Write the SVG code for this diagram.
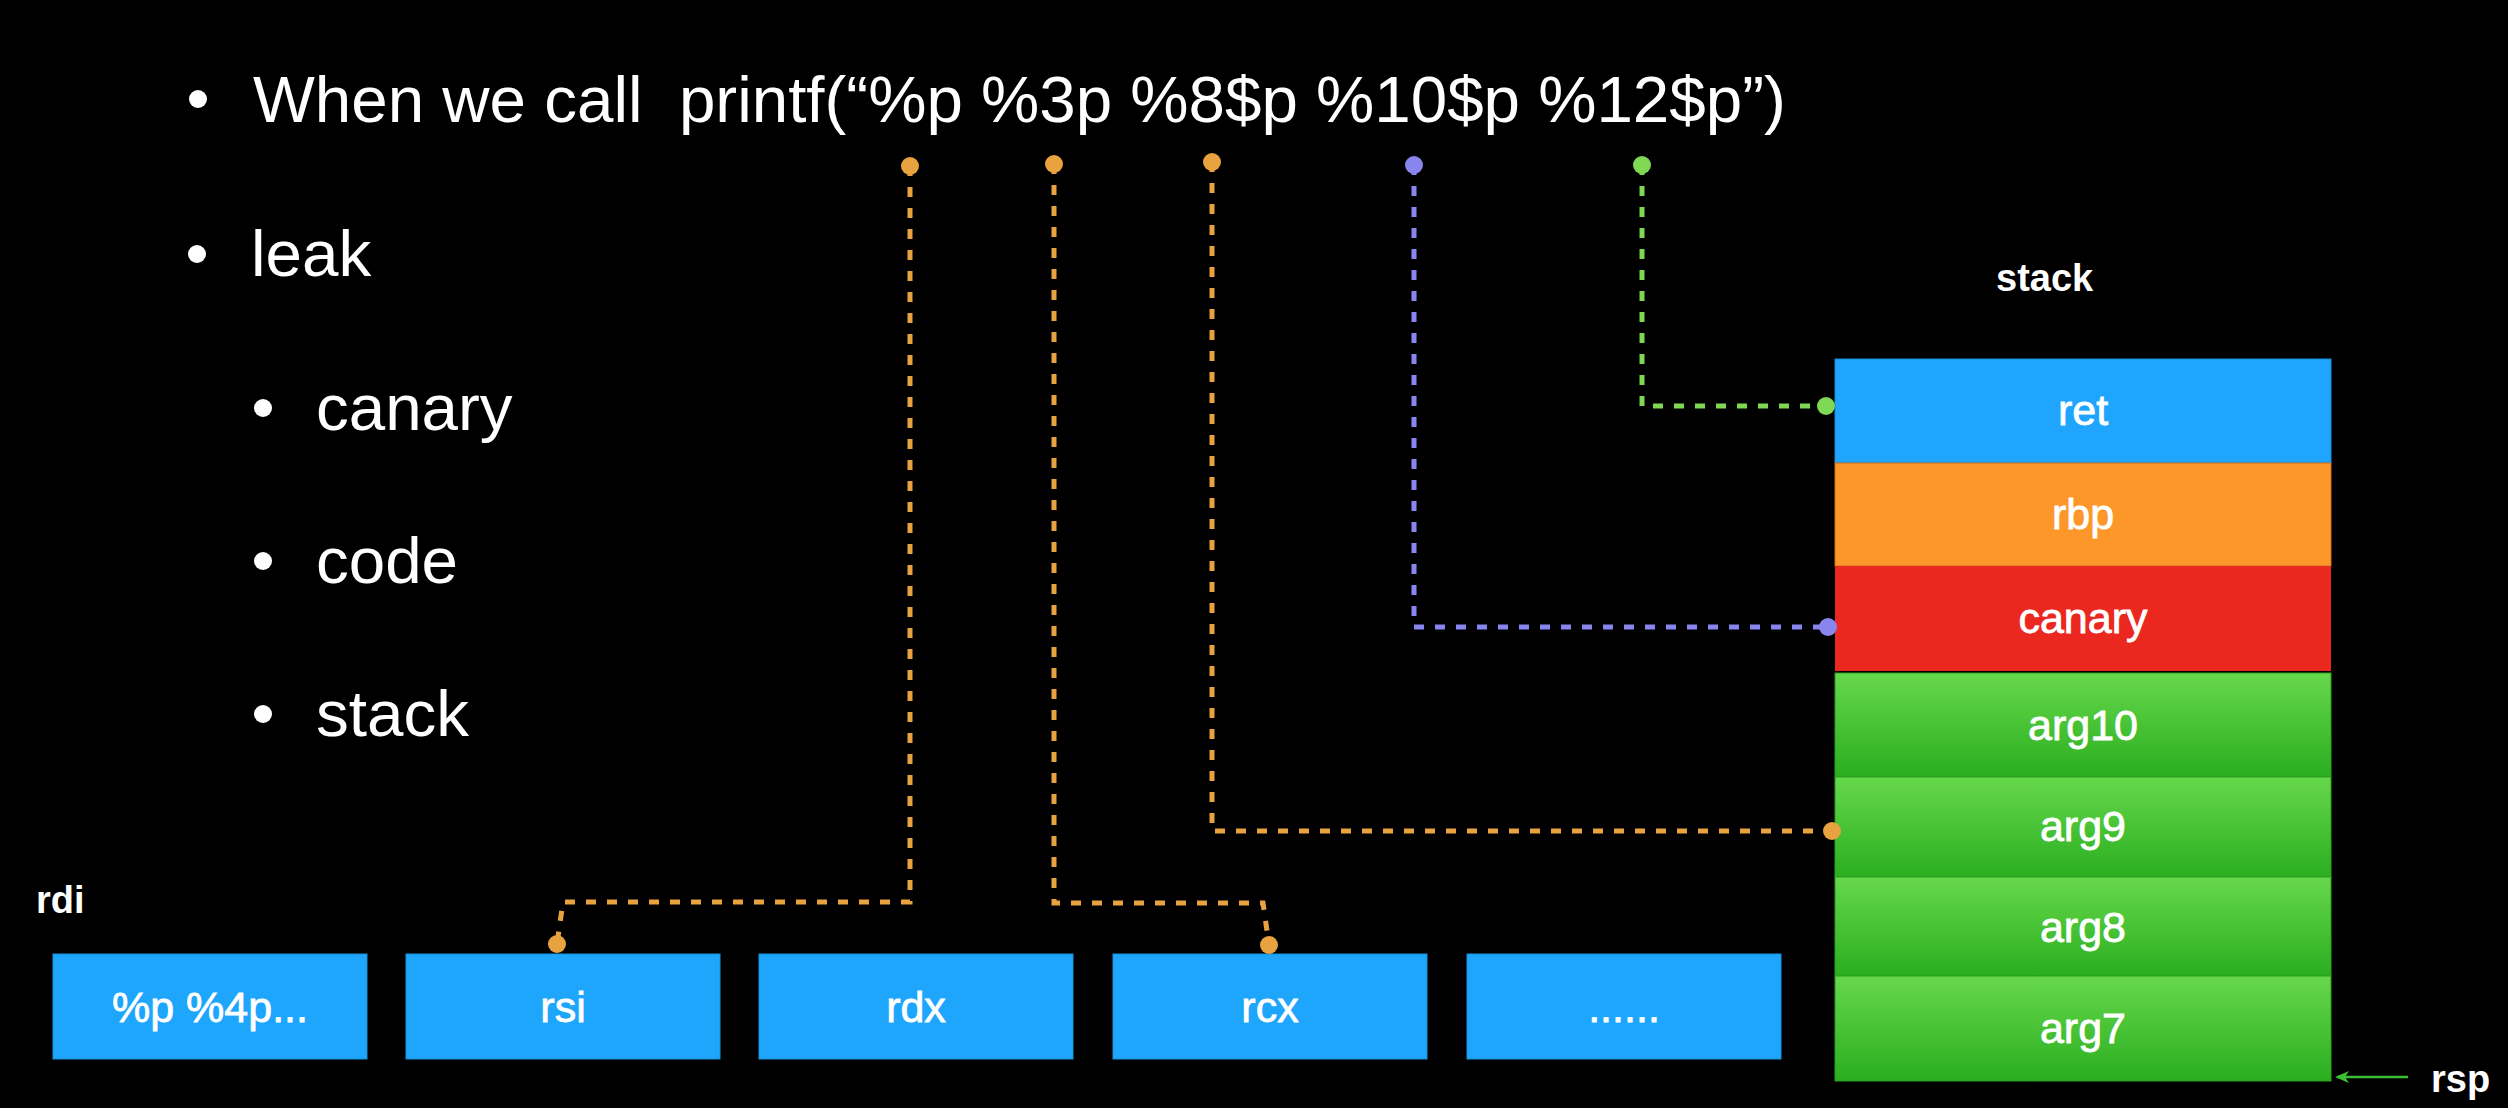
<svg xmlns="http://www.w3.org/2000/svg" width="2508" height="1108" viewBox="0 0 2508 1108">
<defs>
<style>
.bt{font-family:"Liberation Sans",Arial,sans-serif;font-size:65.5px;fill:#fff}
.lbl{font-family:"Liberation Sans",Arial,sans-serif;font-size:43px;fill:#fff;stroke:#fff;stroke-width:0.8;text-anchor:middle}
.hd{font-family:"Liberation Sans",Arial,sans-serif;font-size:38px;font-weight:bold;fill:#fff}
.reg{fill:#1EA5FC;stroke:#1A8FDA;stroke-width:1}
.arg{fill:url(#gg);stroke:#2A9E20;stroke-width:1}
.c{fill:none;stroke-width:5;stroke-dasharray:10 11}
.o{stroke:#E8A23F}.of{fill:#E8A23F}
.p{stroke:#8985EE}.pf{fill:#8985EE}
.g{stroke:#7ED853}.gf{fill:#7ED853}
</style>
<linearGradient id="gg" x1="0" y1="0" x2="0" y2="1">
<stop offset="0" stop-color="#67D84B"/>
<stop offset="1" stop-color="#2AAE20"/>
</linearGradient>
<marker id="ah" markerWidth="14" markerHeight="12" refX="12" refY="6" orient="auto" markerUnits="userSpaceOnUse">
<path d="M14,6 L0,0 L4,6 L0,12 Z" fill="#3CC035"/>
</marker>
</defs>
<rect width="2508" height="1108" fill="#000"/>

<g id="bullets">
<circle cx="198" cy="99" r="9" fill="#fff"/>
<text class="bt" x="253" y="122" xml:space="preserve">When we call  printf(“%p %3p %8$p %10$p %12$p”)</text>
<circle cx="197" cy="254" r="9" fill="#fff"/>
<text class="bt" x="251" y="276">leak</text>
<circle cx="263" cy="408" r="9" fill="#fff"/>
<text class="bt" x="316" y="430">canary</text>
<circle cx="263" cy="561" r="9" fill="#fff"/>
<text class="bt" x="316" y="583">code</text>
<circle cx="263" cy="714" r="9" fill="#fff"/>
<text class="bt" x="316" y="736">stack</text>
</g>

<text class="hd" x="36" y="913">rdi</text>
<text class="hd" x="1996" y="291">stack</text>

<g id="reg-rdi"><rect class="reg" x="53" y="954" width="314" height="105"/><text class="lbl" x="210" y="1022">%p %4p...</text></g>
<g id="reg-rsi"><rect class="reg" x="406" y="954" width="314" height="105"/><text class="lbl" x="563" y="1022">rsi</text></g>
<g id="reg-rdx"><rect class="reg" x="759" y="954" width="314" height="105"/><text class="lbl" x="916" y="1022">rdx</text></g>
<g id="reg-rcx"><rect class="reg" x="1113" y="954" width="314" height="105"/><text class="lbl" x="1270" y="1022">rcx</text></g>
<g id="reg-more"><rect class="reg" x="1467" y="954" width="314" height="105"/><text class="lbl" x="1624" y="1022">......</text></g>

<g id="stack-ret"><rect x="1835" y="359" width="496" height="104" fill="#1FA5FD" stroke="#1A8CD6" stroke-width="1"/><text class="lbl" x="2083" y="425">ret</text></g>
<g id="stack-rbp"><rect x="1835" y="463" width="496" height="103" fill="#FD972A" stroke="#C8701C" stroke-width="1"/><text class="lbl" x="2083" y="529">rbp</text></g>
<g id="stack-canary"><rect x="1835" y="566" width="496" height="105" fill="#EA2820"/><text class="lbl" x="2083" y="633">canary</text></g>
<g id="stack-arg10"><rect class="arg" x="1835" y="673" width="496" height="104"/><text class="lbl" x="2083" y="740">arg10</text></g>
<g id="stack-arg9"><rect class="arg" x="1835" y="777" width="496" height="100"/><text class="lbl" x="2083" y="841">arg9</text></g>
<g id="stack-arg8"><rect class="arg" x="1835" y="877" width="496" height="99"/><text class="lbl" x="2083" y="942">arg8</text></g>
<g id="stack-arg7"><rect class="arg" x="1835" y="976" width="496" height="105"/><text class="lbl" x="2083" y="1043">arg7</text></g>

<g id="connectors">
<path class="c o" d="M910,166 V902 H563 L557,944"/>
<circle class="of" cx="910" cy="166" r="9"/><circle class="of" cx="557" cy="944" r="9"/>
<path class="c o" d="M1054,164 V903 H1263 L1269,945"/>
<circle class="of" cx="1054" cy="164" r="9"/><circle class="of" cx="1269" cy="945" r="9"/>
<path class="c o" d="M1212,162 V831 H1832"/>
<circle class="of" cx="1212" cy="162" r="9"/><circle class="of" cx="1832" cy="831" r="9"/>
<path class="c p" d="M1414,165 V627 H1828"/>
<circle class="pf" cx="1414" cy="165" r="9"/><circle class="pf" cx="1828" cy="627" r="9"/>
<path class="c g" d="M1642,165 V406 H1826"/>
<circle class="gf" cx="1642" cy="165" r="9"/><circle class="gf" cx="1826" cy="406" r="9"/>
<line x1="2408" y1="1077" x2="2337" y2="1077" stroke="#3CC035" stroke-width="2.5" marker-end="url(#ah)"/>
</g>
<text class="hd" x="2431" y="1092">rsp</text>
</svg>
